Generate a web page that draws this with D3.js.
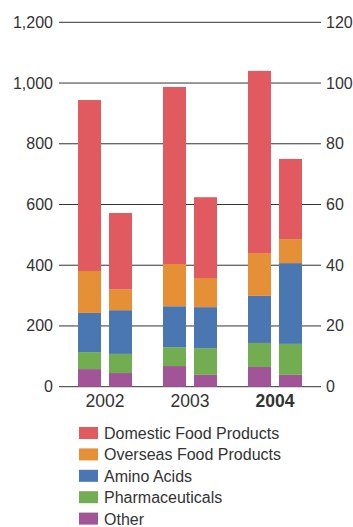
<!DOCTYPE html>
<html>
<head>
<meta charset="utf-8">
<script src="https://cdn.jsdelivr.net/npm/d3@7"></script>
<style>
  body { margin: 0; background: #fff; }
  text { font-family: "Liberation Sans Narrow", "Liberation Sans", Arial, sans-serif; fill: #333; }
</style>
</head>
<body>
<div id="chart"></div>
<script>
const width = 353,
    height = 527;

// categories
const years = ['2002', '2003', '2004'];
const segments = ['Other', 'Pharmaceuticals', 'Amino Acids', 'Overseas Food Products', 'Domestic Food Products'];
const colors = ['#a15497', '#73ad51', '#4a76b1', '#e59036', '#e05a5f'];

// left bars: net sales (left axis), bottom -> top
const salesOther = [58, 68, 65];
const salesPharma = [56, 62, 79];
const salesAmino = [129, 135, 155];
const salesOverseas = [138, 139, 141];
const salesDomestic = [563, 583, 600];

// right bars: operating income (right axis), bottom -> top
const incomeOther = [4.5, 3.9, 3.9];
const incomePharma = [6.3, 8.8, 10.2];
const incomeAmino = [14.4, 13.5, 26.6];
const incomeOverseas = [6.9, 9.6, 7.9];
const incomeDomestic = [25.1, 26.6, 26.4];

const leftTicks = [0, 200, 400, 600, 800, 1000, 1200];
const rightTicks = [0, 20, 40, 60, 80, 100, 120];

const sales = [salesOther, salesPharma, salesAmino, salesOverseas, salesDomestic];
const income = [incomeOther, incomePharma, incomeAmino, incomeOverseas, incomeDomestic];

const svg = d3.select('#chart')
    .append('svg')
    .attr('width', width)
    .attr('height', height);

const yLeft = d3.scaleLinear().domain([0, 1200]).range([386.7, 22.3]);
const yRight = d3.scaleLinear().domain([0, 120]).range([386.7, 22.3]);

const xGroup = d3.scaleBand()
    .domain(years)
    .range([62.5, 317.5])
    .paddingInner(0)
    .paddingOuter(0);

const barW = 23,
    barGap = 8;

// gridlines
svg.append('g')
    .selectAll('line')
    .data(leftTicks)
    .enter()
    .append('line')
    .attr('x1', 59)
    .attr('x2', 321)
    .attr('y1', d => yLeft(d))
    .attr('y2', d => yLeft(d))
    .attr('stroke', '#333')
    .attr('stroke-width', 1);

// left axis labels
svg.append('g')
    .selectAll('text')
    .data(leftTicks)
    .enter()
    .append('text')
    .attr('x', 53)
    .attr('y', d => yLeft(d) + 5.5)
    .attr('text-anchor', 'end')
    .style('font-size', '16px')
    .text(d => d3.format(',')(d));

// right axis labels
svg.append('g')
    .selectAll('text')
    .data(rightTicks)
    .enter()
    .append('text')
    .attr('x', 326)
    .attr('y', d => yRight(d) + 5.5)
    .attr('text-anchor', 'start')
    .style('font-size', '16px')
    .text(d => d);

// stacked bars
const drawStack = (series, scale, offset) => {
    years.forEach((yr, i) => {
        let base = 0;
        series.forEach((s, k) => {
            const v = s[i];
            const cx = xGroup(yr) + xGroup.bandwidth() / 2;
            svg.append('rect')
                .attr('x', cx + offset)
                .attr('y', scale(base + v))
                .attr('width', barW)
                .attr('height', scale(base) - scale(base + v))
                .attr('fill', colors[k]);
            base += v;
        });
    });
};

drawStack(sales, yLeft, -barW - barGap / 2);
drawStack(income, yRight, barGap / 2);

// year labels
svg.append('g')
    .selectAll('text')
    .data(years)
    .enter()
    .append('text')
    .attr('x', d => xGroup(d) + xGroup.bandwidth() / 2)
    .attr('y', 407)
    .attr('text-anchor', 'middle')
    .style('font-size', '17.5px')
    .style('font-weight', (d, i) => i === years.length - 1 ? 'bold' : 'normal')
    .text(d => d);

// legend, top -> bottom
const legendItems = segments.slice().reverse();
const legendColors = colors.slice().reverse();

const legend = svg.append('g')
    .selectAll('g')
    .data(legendItems)
    .enter()
    .append('g')
    .attr('transform', (d, i) => 'translate(79,' + (433 + i * 21.4) + ')');

legend.append('rect')
    .attr('x', 0)
    .attr('y', -6)
    .attr('width', 19)
    .attr('height', 12)
    .attr('fill', (d, i) => legendColors[i]);

legend.append('text')
    .attr('x', 25)
    .attr('y', 6)
    .style('font-size', '16px')
    .text(d => d);
</script>
</body>
</html>
